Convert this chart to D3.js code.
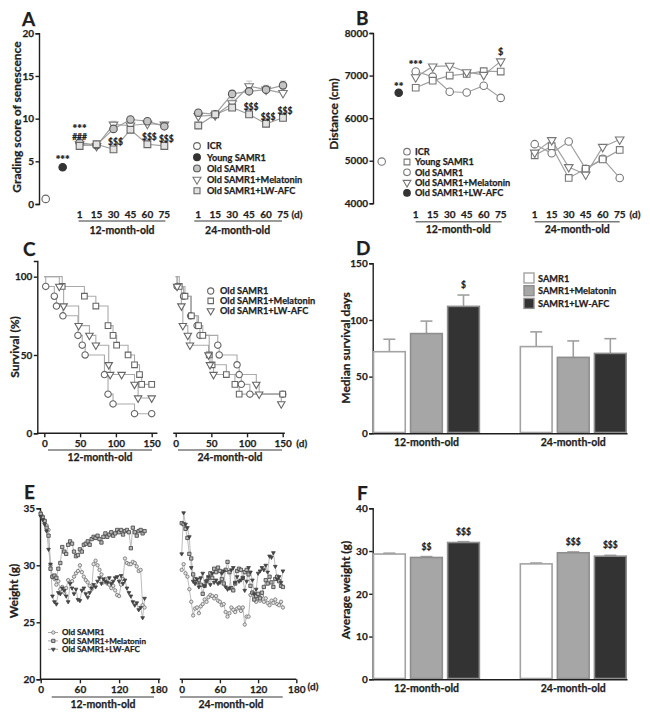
<!DOCTYPE html>
<html>
<head>
<meta charset="utf-8">
<script src="https://cdn.jsdelivr.net/npm/d3@7"></script>
<style>
  body { margin: 0; background: #fff; }
  text { font-family: Lato, "Open Sans", sans-serif; font-weight: bold; stroke: #1e1e1e; stroke-width: 0.25px; }
</style>
</head>
<body>
<svg id="fig" width="650" height="716"></svg>
<script>
// ---------- data ----------
// A: grading score of senescence
const dayLabels = ["1", "15", "30", "45", "60", "75"];
const groupLabels = ["12-month-old", "24-month-old"];
const scoreICR = [0.6];
const scoreYoung = [4.3];
const score12Old = [7.2, 6.9, 8.8, 9.9, 9.7, 9.1];
const score12Mel = [7.0, 6.8, 9.3, 9.2, 9.4, 9.3];
const score12Lw = [6.8, 7.0, 6.4, 8.7, 7.0, 6.8];
const score24Old = [10.7, 10.5, 12.9, 13.2, 13.4, 13.9];
const score24Mel = [10.3, 10.4, 11.8, 13.8, 13.4, 13.0];
const score24Lw = [9.2, 10.5, 11.3, 10.5, 9.4, 10.1];
const err12Old = [0.3, 0.2, 0.4, 0.3, 0.3, 0.3];
const err12Mel = [0.3, 0.2, 0.4, 0.4, 0.4, 0.3];
const err12Lw = [0.3, 0.2, 0.3, 0.4, 0.3, 0.3];
const err24Old = [0.3, 0.3, 0.4, 0.5, 0.5, 0.5];
const err24Mel = [0.4, 0.3, 0.5, 0.6, 0.5, 0.5];
const err24Lw = [0.3, 0.3, 0.4, 0.4, 0.3, 0.5];
const scoreSig12 = ["", "", "$$$", "", "$$$", "$$$"];
const scoreSig24 = ["", "", "", "$$$", "$$$", "$$$"];
const legendA = ["ICR", "Young SAMR1", "Old SAMR1", "Old SAMR1+Melatonin", "Old SAMR1+LW-AFC"];

// B: distance (cm)
const distICR = [4980];
const distYoung = [6595];
const dist12Circ = [7095, 6976, 6620, 6603, 6760, 6476];
const dist12Sq = [6714, 6880, 7000, 7040, 7103, 7095];
const dist12Tri = [6960, 7214, 7230, 7080, 7016, 7333];
const dist24Circ = [5389, 5175, 5452, 4810, 5048, 4595];
const dist24Sq = [5127, 5341, 4595, 4810, 5032, 5254];
const dist24Tri = [5190, 5484, 4850, 4675, 5325, 5500];
const legendB = ["ICR", "Young SAMR1", "Old SAMR1", "Old SAMR1+Melatonin", "Old SAMR1+LW-AFC"];

// C: survival curves [day, %]
const surv12Old = [[2, 93.75], [14, 87.5], [17, 81.25], [26, 75], [47, 62.5], [53, 56.25], [57, 50], [84, 37.5], [89, 25], [96, 18.75], [126, 12.5], [150, 12.5]];
const surv12Mel = [[25, 93.75], [56, 87.5], [72, 81.25], [89, 68.75], [96, 62.5], [101, 56.25], [117, 50], [126, 43.75], [133, 37.5], [136, 31.25], [150, 31.25]];
const surv12Lw = [[21, 93.75], [27, 81.25], [48, 68.75], [63, 62.5], [72, 56.25], [90, 43.75], [92, 37.5], [108, 37.5], [126, 31.25], [131, 22.5], [150, 22.5]];
const surv24Old = [[2, 93.75], [11, 87.5], [21, 75], [30, 68.75], [34, 62.5], [59, 56.25], [61, 50], [86, 43.75], [89, 37.5], [92, 31.25], [104, 25], [150, 25]];
const surv24Mel = [[5, 93.75], [13, 87.5], [22, 75], [32, 68.75], [38, 62.5], [47, 50], [51, 43.75], [71, 37.5], [83, 31.25], [89, 25], [150, 25]];
const surv24Lw = [[2, 93.75], [8, 81.25], [10, 68.75], [17, 62.5], [20, 56.25], [46, 50], [48, 43.75], [53, 37.5], [113, 31.25], [117, 25], [148, 18.75]];
const legendC = ["Old SAMR1", "Old SAMR1+Melatonin", "Old SAMR1+LW-AFC"];

// D / F: bars
const barGroups = ["12-month-old", "24-month-old"];
const barSeries = ["SAMR1", "SAMR1+Melatonin", "SAMR1+LW-AFC"];
const survMedian = [[72, 88, 112], [76.5, 67, 70.5]];
const survErr = [[11, 11, 10], [13, 14.5, 13]];
const survSig = [["", "", "$"], ["", "", ""]];
const weightMean = [[29.3, 28.5, 32.0], [27.0, 29.6, 28.8]];
const weightErr = [[0.2, 0.2, 0.2], [0.2, 0.2, 0.2]];
const weightSig = [["", "$$", "$$$"], ["", "$$$", "$$$"]];

// E: body weight (g) over days
const weightDays = [0, 3, 6, 9, 12, 15, 18, 21, 24, 27, 30, 33, 36, 39, 42, 45, 48, 51, 54, 57,
  60, 63, 66, 69, 72, 75, 78, 81, 84, 87, 90, 93, 96, 99, 102, 105, 108, 111, 114, 117,
  120, 123, 126, 129, 132, 135, 138, 141, 144, 147, 150, 153, 156, 159];
const w12Old = [34.6, 34.3, 33.9, 33.5, 33.1, 30.0, 29.0, 28.8, 28.3, 28.6, 27.9, 28.1, 27.6, 28.0, 28.7, 28.5, 28.6, 29.0, 29.3, 29.5,
  30.0, 29.4, 29.0, 28.7, 28.5, 28.2, 27.9, 30.1, 30.4, 30.0, 29.6, 29.2, 28.5, 28.8, 28.4, 28.3, 28.0, 28.2, 27.8, 27.4,
  27.3, 28.3, 28.8, 30.6, 30.2, 30.1, 30.1, 30.3, 30.2, 29.9, 29.5, 29.6, 26.5, 26.3];
const w12Mel = [34.5, 34.2, 33.9, 33.3, 32.6, 29.7, 29.0, 29.1, 28.9, 29.7, 30.2, 31.6, 31.2, 31.0, 31.8, 32.1, 31.9, 31.2, 30.8, 30.9,
  31.4, 31.2, 31.8, 31.9, 32.1, 31.8, 32.3, 32.5, 32.4, 32.6, 32.3, 32.0, 32.5, 32.8, 32.5, 32.7, 32.9, 32.6, 32.8, 33.1,
  32.9, 33.1, 32.7, 33.0, 33.1, 32.9, 31.5, 33.3, 32.9, 32.6, 33.0, 33.1, 32.8, 33.0];
const w12Lw = [34.3, 34.0, 33.6, 33.0, 31.4, 30.1, 27.3, 26.8, 26.6, 27.6, 27.5, 28.0, 27.8, 27.3, 26.8, 28.4, 28.0, 27.5, 27.9, 27.0,
  26.9, 27.8, 28.0, 27.5, 27.2, 27.6, 28.0, 28.3, 28.1, 28.6, 28.9, 28.4, 28.8, 28.6, 28.5, 28.9, 28.4, 28.6, 28.9, 29.0,
  28.6, 29.1, 28.4, 28.7, 28.0, 27.6, 27.3, 26.8, 26.5, 26.7, 26.1, 26.3, 25.4, 27.1];
const w24Old = [29.6, 30.1, 29.3, 29.0, 27.9, 26.8, 25.6, 26.2, 26.3, 25.8, 26.4, 26.6, 27.0, 26.8, 27.2, 27.4, 27.3, 27.1, 27.3, 26.9,
  26.8, 26.5, 26.6, 25.9, 25.5, 25.8, 26.3, 26.1, 25.9, 26.2, 26.3, 26.0, 26.3, 24.8, 25.5, 25.5, 27.4, 27.6, 27.2, 26.8,
  27.1, 26.9, 27.3, 26.8, 27.1, 26.7, 26.5, 26.9, 26.7, 27.0, 26.6, 26.5, 26.8, 26.3];
const w24Mel = [33.7, 33.6, 33.2, 32.4, 31.0, 30.6, 29.2, 28.8, 28.5, 28.7, 28.3, 27.5, 28.2, 28.6, 28.9, 29.3, 28.9, 29.7, 29.4, 29.8,
  29.5, 28.8, 28.4, 29.6, 30.3, 29.4, 28.0, 27.8, 28.4, 29.5, 29.7, 29.6, 28.9, 29.4, 29.6, 29.2, 28.2, 27.6, 27.0, 27.3,
  27.5, 27.1, 27.6, 28.1, 28.7, 28.4, 29.0, 28.5, 28.1, 28.8, 29.0, 28.6, 28.2, 28.1];
const w24Lw = [31.0, 34.6, 33.6, 33.3, 32.5, 29.8, 28.6, 28.4, 28.8, 28.1, 28.9, 29.3, 28.2, 28.6, 29.0, 28.3, 29.3, 28.5, 28.7, 28.4,
  28.5, 29.3, 29.5, 28.1, 27.9, 28.0, 29.6, 29.8, 28.5, 29.0, 28.6, 28.7, 28.9, 27.8, 28.6, 29.8, 29.4, 28.7, 27.5, 27.9,
  29.3, 29.5, 29.8, 29.6, 30.0, 29.4, 30.8, 30.7, 31.1, 29.9, 28.8, 29.0, 28.5, 29.5];
const legendE = ["Old SAMR1", "Old SAMR1+Melatonin", "Old SAMR1+LW-AFC"];

// ---------- helpers ----------
const svg = d3.select("#fig");
const INK = "#1e1e1e";
const LINE = "#a0a0a0";

function txt(x, y, s, size, anchor, rot) {
  return svg.append("text")
    .attr("x", x).attr("y", y)
    .attr("text-anchor", anchor || "start")
    .attr("fill", INK)
    .attr("transform", rot ? `rotate(${rot},${x},${y})` : null)
    .style("font-size", size + "px")
    .text(s);
}

function styleAxis(g) {
  g.attr("color", INK);
  g.selectAll("path, line").attr("stroke-width", 1.4);
  g.selectAll("text").style("font-size", "10px");
}

function yAxis(scale, x, ticks) {
  svg.append("g").attr("transform", `translate(${x},0)`)
    .call(d3.axisLeft(scale).tickValues(ticks).tickFormat(d3.format("d"))
      .tickSizeOuter(0).tickSize(3.5).tickPadding(1.5))
    .call(styleAxis);
}

const SYM = { circle: d3.symbolCircle, square: d3.symbolSquare, tri: d3.symbolTriangle };
function mark(g, shape, x, y, size, fill, stroke, sw) {
  g.append("path")
    .attr("d", d3.symbol(SYM[shape], size)())
    .attr("transform", `translate(${x},${y})` + (shape === "tri" ? " rotate(180)" : ""))
    .attr("fill", fill).attr("stroke", stroke).attr("stroke-width", sw || 1);
}

function underline(x1, x2, y) {
  svg.append("line").attr("x1", x1).attr("x2", x2).attr("y1", y).attr("y2", y)
    .attr("stroke", "#7a7a7a").attr("stroke-width", 1.6);
}

// ---------- panel letters ----------
txt(22, 26, "A", 19); txt(356, 25, "B", 19);
txt(23, 256, "C", 19); txt(356, 255, "D", 19);
txt(24, 499, "E", 19); txt(357, 500, "F", 19);

// ---------- A ----------
{
  const x = d3.scaleLinear().domain([0, 14]).range([45.7, 283]);
  const y = d3.scaleLinear().domain([0, 20]).range([204, 33.3]);
  yAxis(y, 39, [0, 5, 10, 15, 20]);
  txt(21, 117, "Grading score of senescence", 12, "middle", -90);
  const g = svg.append("g");
  const series = [
    { v: score12Mel, e: err12Mel, p: 2, s: "tri", f: "#fff", k: "#777" },
    { v: score12Old, e: err12Old, p: 2, s: "circle", f: "#c4c4c4", k: "#555" },
    { v: score12Lw, e: err12Lw, p: 2, s: "square", f: "#e2e2e2", k: "#666" },
    { v: score24Mel, e: err24Mel, p: 9, s: "tri", f: "#fff", k: "#777" },
    { v: score24Old, e: err24Old, p: 9, s: "circle", f: "#c4c4c4", k: "#555" },
    { v: score24Lw, e: err24Lw, p: 9, s: "square", f: "#e2e2e2", k: "#666" }
  ];
  series.forEach(sr => {
    sr.v.forEach((d, i) => {
      g.append("line").attr("x1", x(sr.p + i)).attr("x2", x(sr.p + i))
        .attr("y1", y(d - sr.e[i])).attr("y2", y(d + sr.e[i])).attr("stroke", "#c8c8c8").attr("stroke-width", 1);
      g.append("line").attr("x1", x(sr.p + i) - 3).attr("x2", x(sr.p + i) + 3)
        .attr("y1", y(d + sr.e[i])).attr("y2", y(d + sr.e[i])).attr("stroke", "#c8c8c8").attr("stroke-width", 1);
    });
  });
  series.forEach(sr => {
    g.append("path").datum(sr.v)
      .attr("d", d3.line().x((d, i) => x(sr.p + i)).y(d => y(d)))
      .attr("fill", "none").attr("stroke", LINE).attr("stroke-width", 1.2);
  });
  series.forEach(sr => sr.v.forEach((d, i) =>
    mark(g, sr.s, x(sr.p + i), y(d), sr.s === "square" ? 46 : sr.s === "tri" ? 32 : 44, sr.f, sr.k, 1.1)));
  mark(g, "circle", x(0), y(scoreICR[0]), 44, "#fff", "#666", 1.1);
  mark(g, "circle", x(1), y(scoreYoung[0]), 44, "#333", "#333", 1.1);

  txt(x(1), y(scoreYoung[0]) - 3, "***", 11, "middle");
  txt(x(2), y(score12Old[0]) - 9.5, "***", 11, "middle");
  txt(x(2), y(score12Old[0]) - 2.5, "###", 8.5, "middle");
  scoreSig12.forEach((s, i) => { if (s) txt(x(2 + i) + 2, y(score12Lw[i]) - 4, s, 8.5, "middle"); });
  scoreSig24.forEach((s, i) => { if (s) txt(x(9 + i) + 2, y(score24Lw[i]) - 4, s, 8.5, "middle"); });

  dayLabels.forEach((d, i) => { txt(x(2 + i), 218, d, 10, "middle"); txt(x(9 + i), 218, d, 10, "middle"); });
  txt(297, 218, "(d)", 10, "middle");
  underline(x(2) - 1, x(7) + 1, 221);
  underline(x(9) - 4, x(14) - 1, 221);
  txt((x(2) + x(7)) / 2, 234, groupLabels[0], 10.5, "middle");
  txt((x(9) + x(14)) / 2 - 3, 234, groupLabels[1], 10.5, "middle");

  const lg = [["circle", "#fff", "#666"], ["circle", "#333", "#333"], ["circle", "#c4c4c4", "#555"], ["tri", "#fff", "#777"], ["square", "#e2e2e2", "#666"]];
  legendA.forEach((l, i) => {
    const yy = 146 + i * 11.2;
    mark(svg, lg[i][0], 197, yy, lg[i][0] === "tri" ? 28 : 36, lg[i][1], lg[i][2], 1.1);
    txt(207, yy + 3.3, l, 9.2);
  });
}

// ---------- B ----------
{
  const x = d3.scaleLinear().domain([0, 14]).range([381.7, 619.7]);
  const y = d3.scaleLinear().domain([4000, 8000]).range([203.3, 33]);
  yAxis(y, 373, [4000, 5000, 6000, 7000, 8000]);
  txt(338, 114, "Distance (cm)", 12, "middle", -90);
  const g = svg.append("g");
  const series = [
    { v: dist12Circ, p: 2, s: "circle" }, { v: dist12Sq, p: 2, s: "square" }, { v: dist12Tri, p: 2, s: "tri" },
    { v: dist24Circ, p: 9, s: "circle" }, { v: dist24Sq, p: 9, s: "square" }, { v: dist24Tri, p: 9, s: "tri" }
  ];
  series.forEach(sr => g.append("path").datum(sr.v)
    .attr("d", d3.line().x((d, i) => x(sr.p + i)).y(d => y(d)))
    .attr("fill", "none").attr("stroke", LINE).attr("stroke-width", 1.2));
  series.forEach(sr => sr.v.forEach((d, i) =>
    mark(g, sr.s, x(sr.p + i), y(d), sr.s === "tri" ? 32 : 44, "#fff", "#777", 1.1)));
  mark(g, "circle", x(0), y(distICR[0]), 44, "#fff", "#777", 1.1);
  mark(g, "circle", x(1), y(distYoung[0]), 44, "#333", "#333", 1.1);

  txt(x(1), y(distYoung[0]) - 2, "**", 11, "middle");
  txt(x(2), y(dist12Circ[0]) - 2.5, "***", 11, "middle");
  txt(x(7), y(dist12Tri[5]) - 6, "$", 9, "middle");

  dayLabels.forEach((d, i) => { txt(x(2 + i), 218, d, 10, "middle"); txt(x(9 + i), 218, d, 10, "middle"); });
  txt(635, 218, "(d)", 10, "middle");
  underline(x(2), x(7) + 1, 221.7);
  underline(x(9), x(14), 221.7);
  txt((x(2) + x(7)) / 2, 233, groupLabels[0], 10.5, "middle");
  txt((x(9) + x(14)) / 2, 233, groupLabels[1], 10.5, "middle");

  const lg = [["circle", "#fff"], ["square", "#fff"], ["circle", "#fff"], ["tri", "#fff"], ["circle", "#333"]];
  legendB.forEach((l, i) => {
    const yy = 151.7 + i * 10.3;
    mark(svg, lg[i][0], 407, yy, lg[i][0] === "tri" ? 26 : 34, lg[i][1], lg[i][1] === "#333" ? "#333" : "#777", 1.1);
    txt(415, yy + 3.3, l, 9.2);
  });
}

// ---------- C ----------
{
  const x1 = d3.scaleLinear().domain([0, 150]).range([44.3, 151.7]);
  const x2 = d3.scaleLinear().domain([0, 150]).range([175.7, 282.7]);
  const y = d3.scaleLinear().domain([0, 110]).range([433.3, 261]);
  yAxis(y, 37.3, [0, 50, 100]);
  txt(19, 347, "Survival (%)", 12, "middle", -90);
  [[x1, -10, 158], [x2, -3.5, 153]].forEach(([sc, a, b]) => {
    svg.append("g").attr("transform", "translate(0,433.3)")
      .call(d3.axisBottom(sc).tickValues([0, 50, 100, 150]).tickSizeOuter(0).tickSize(4).tickPadding(3))
      .call(styleAxis)
      .call(gg => gg.select(".domain").attr("d", `M${sc(a)},0H${sc(b)}`));
  });
  txt(301.7, 447, "(d)", 10, "middle");
  underline(48, 152, 450);
  underline(178, 282, 450);
  txt(100, 461, groupLabels[0], 10.5, "middle");
  txt(230, 461, groupLabels[1], 10.5, "middle");

  const g = svg.append("g");
  const series = [
    { v: surv12Old, sc: x1, s: "circle" }, { v: surv12Mel, sc: x1, s: "square" }, { v: surv12Lw, sc: x1, s: "tri" },
    { v: surv24Old, sc: x2, s: "circle" }, { v: surv24Mel, sc: x2, s: "square" }, { v: surv24Lw, sc: x2, s: "tri" }
  ];
  series.forEach(sr => g.append("path").datum([[0, 100]].concat(sr.v))
    .attr("d", d3.line().curve(d3.curveStepAfter).x(d => sr.sc(d[0])).y(d => y(d[1])))
    .attr("fill", "none").attr("stroke", "#aaa").attr("stroke-width", 1.1));
  series.forEach(sr => sr.v.forEach(d =>
    mark(g, sr.s, sr.sc(d[0]), y(d[1]), sr.s === "tri" ? 24 : 32, "#fff", "#666", 1.1)));

  legendC.forEach((l, i) => {
    const s = ["circle", "square", "tri"][i];
    const yy = 291 + i * 9.9;
    mark(svg, s, 210.7, yy, s === "tri" ? 22 : 30, "#fff", "#666", 1.1);
    txt(220, yy + 3.3, l, 9.2);
  });
}

// ---------- bar panels D & F ----------
const barFill = ["#ffffff", "#a6a6a6", "#333333"];
const barStroke = ["#a3a3a3", "#8e8e8e", "#8e8e8e"];
function barPanel(vals, errs, sigs, y, ticks, axisY, title, titleY) {
  const xg = d3.scaleBand().domain(barGroups).range([372.7, 627]).paddingInner(0.268);
  const xs = d3.scaleBand().domain(barSeries).range([0, xg.bandwidth()]).paddingInner(0.1);
  yAxis(y, 372.7, ticks);
  txt(349.5, titleY, title, 12, "middle", -90);
  const g = svg.append("g");
  barGroups.forEach((grp, gi) => {
    barSeries.forEach((s, si) => {
      const x0 = xg(grp) + xs(s), v = vals[gi][si], cx = x0 + xs.bandwidth() / 2;
      const top = y(v + errs[gi][si]);
      g.append("line").attr("x1", cx).attr("x2", cx).attr("y1", y(v)).attr("y2", top)
        .attr("stroke", "#a0a0a0").attr("stroke-width", 1.6);
      g.append("line").attr("x1", cx - 6).attr("x2", cx + 6).attr("y1", top).attr("y2", top)
        .attr("stroke", "#a0a0a0").attr("stroke-width", 1.6);
      g.append("rect").attr("x", x0 + 0.8).attr("y", y(v)).attr("width", xs.bandwidth() - 1.6)
        .attr("height", y(0) - y(v) - 0.8)
        .attr("fill", barFill[si]).attr("stroke", barStroke[si]).attr("stroke-width", 1.6);
      if (sigs[gi][si]) txt(cx, top - 7, sigs[gi][si], 8.5, "middle");
    });
  });
  svg.append("g").attr("transform", `translate(0,${axisY})`)
    .call(d3.axisBottom(xg).tickSize(0).tickPadding(5).tickSizeOuter(0))
    .call(styleAxis)
    .call(gg => gg.selectAll("text").style("font-size", "10.5px"));
  return xg;
}

{
  const y = d3.scaleLinear().domain([0, 150]).range([433.3, 263.3]);
  barPanel(survMedian, survErr, survSig, y, [0, 50, 100, 150], 433.3, "Median survival days", 348);
  barSeries.forEach((s, i) => {
    const yy = 278 + i * 12.7;
    svg.append("rect").attr("x", 524).attr("y", yy - 5).attr("width", 10).attr("height", 10)
      .attr("fill", barFill[i]).attr("stroke", barStroke[i]).attr("stroke-width", 1.4);
    txt(538, yy + 3.5, s, 9.2);
  });
}
{
  const y = d3.scaleLinear().domain([0, 40]).range([679.3, 508.3]);
  barPanel(weightMean, weightErr, weightSig, y, [0, 10, 20, 30, 40], 679.3, "Average weight (g)", 590);
}

// ---------- E ----------
{
  const x1 = d3.scaleLinear().domain([0, 180]).range([40.7, 158.3]);
  const x2 = d3.scaleLinear().domain([0, 180]).range([181.7, 296.3]);
  const y = d3.scaleLinear().domain([20, 35]).range([679.3, 508.3]);
  yAxis(y, 40, [20, 25, 30, 35]);
  txt(18, 591, "Weight (g)", 12, "middle", -90);
  [[x1, -1, 183], [x2, -3, 180]].forEach(([sc, a, b]) => {
    svg.append("g").attr("transform", "translate(0,679.3)")
      .call(d3.axisBottom(sc).tickValues([0, 60, 120, 180]).tickSizeOuter(0).tickSize(4).tickPadding(3))
      .call(styleAxis)
      .call(gg => gg.select(".domain").attr("d", `M${sc(a)},0H${sc(b)}`));
  });
  txt(313, 690, "(d)", 10, "middle");
  underline(51.7, 154, 697);
  underline(180, 282.7, 697);
  txt(103, 707.5, groupLabels[0], 10.5, "middle");
  txt(231, 707.5, groupLabels[1], 10.5, "middle");

  const g = svg.append("g");
  const sty = {
    circle: { size: 9, f: "#e4e4e4", k: "#707070" },
    square: { size: 11, f: "#b8b8b8", k: "#404040" },
    tri: { size: 6, f: "#444", k: "#444" }
  };
  const series = [
    { v: w12Old, sc: x1, s: "circle" }, { v: w12Mel, sc: x1, s: "square" }, { v: w12Lw, sc: x1, s: "tri" },
    { v: w24Old, sc: x2, s: "circle" }, { v: w24Mel, sc: x2, s: "square" }, { v: w24Lw, sc: x2, s: "tri" }
  ];
  series.forEach(sr => g.append("path").datum(sr.v)
    .attr("d", d3.line().x((d, i) => sr.sc(weightDays[i])).y(d => y(d)))
    .attr("fill", "none").attr("stroke", "#b4b4b4").attr("stroke-width", 0.9));
  series.forEach(sr => sr.v.forEach((d, i) =>
    mark(g, sr.s, sr.sc(weightDays[i]), y(d), sty[sr.s].size, sty[sr.s].f, sty[sr.s].k, 0.8)));

  legendE.forEach((l, i) => {
    const yy = 632.5 + i * 8.4;
    const s = ["circle", "square", "tri"][i];
    svg.append("line").attr("x1", 48).attr("x2", 58).attr("y1", yy).attr("y2", yy).attr("stroke", "#aaa");
    mark(svg, s, 53.3, yy, sty[s].size, sty[s].f, sty[s].k, 0.8);
    txt(62, yy + 2.8, l, 8.1);
  });
}
</script>
</body>
</html>
